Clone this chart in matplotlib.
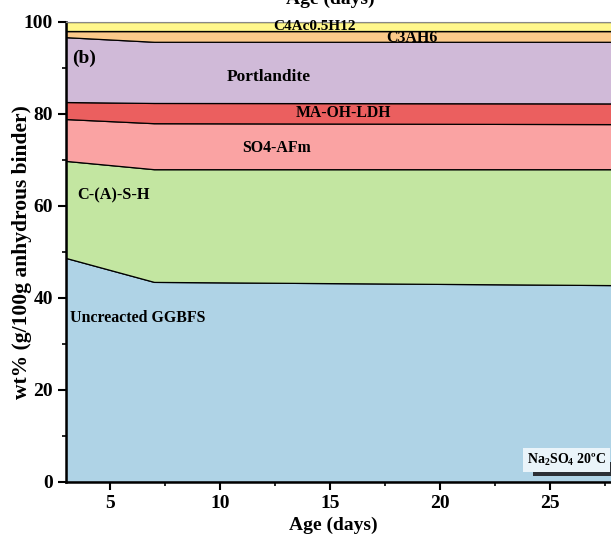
import matplotlib
matplotlib.use("Agg")
import matplotlib.pyplot as plt
from matplotlib.patches import Rectangle
from matplotlib.ticker import MultipleLocator

plt.rcParams['font.family'] = ['Liberation Serif', 'DejaVu Serif']
plt.rcParams['font.weight'] = 'bold'
plt.rcParams['mathtext.fontset'] = 'custom'
plt.rcParams['mathtext.rm'] = 'Liberation Serif:bold'
plt.rcParams['mathtext.it'] = 'Liberation Serif:bold'
plt.rcParams['mathtext.bf'] = 'Liberation Serif:bold'

# phase assemblage, wt% per 100 g anhydrous binder
days = [3, 7, 28]
ggbfs = [48.7, 43.5, 42.8]
csh = [21.1, 24.5, 25.2]
so4_afm = [9.1, 10.0, 9.8]
ma_oh_ldh = [3.7, 4.4, 4.5]
portlandite = [14.1, 13.3, 13.4]
c3ah6 = [1.3, 2.3, 2.3]
c4ac = [2.0, 2.0, 2.0]

colors = ["#afd3e6", "#c3e6a1", "#faa3a3", "#eb5f5f",
          "#d0bad8", "#fbc98a", "#fff78c"]

fig = plt.figure(figsize=(6.11, 5.36), dpi=100)
ax = fig.add_axes([66 / 611, 54 / 536, 545 / 611, 460 / 536])

ax.stackplot(days, ggbfs, csh, so4_afm, ma_oh_ldh, portlandite, c3ah6, c4ac,
             colors=colors, edgecolor="black", linewidth=0.9)

ax.set_xlim(3, 27.77)
ax.set_ylim(0, 100)
ax.xaxis.set_major_locator(MultipleLocator(5))
ax.xaxis.set_minor_locator(MultipleLocator(2.5))
ax.yaxis.set_major_locator(MultipleLocator(20))
ax.yaxis.set_minor_locator(MultipleLocator(10))
ax.tick_params(which="major", direction="out", length=6, width=1.5, labelsize=14)
ax.tick_params(which="minor", direction="out", length=3, width=1.2)
for side in ["left", "bottom"]:
    ax.spines[side].set_linewidth(1.8)
ax.spines["right"].set_visible(False)
ax.spines["top"].set_color("#888888")
ax.spines["top"].set_linewidth(0.8)

ax.set_xlabel("Age (days)", fontsize=14, fontweight="bold", labelpad=0)
ax.xaxis.set_label_coords(0.49, -0.075)
ax.set_ylabel("wt% (g/100g anhydrous binder)", fontsize=15.5, fontweight="bold")
ax.yaxis.set_label_coords(-0.062, 0.5)
fig.text(0.54, 1 - 4 / 536, "Age (days)", fontsize=14, fontweight="bold",
         ha="center", va="baseline")

# phase names
ax.text(14.3, 99.1, "C4Ac0.5H12", ha="center", va="center", fontsize=11, fontweight="bold")
ax.text(18.7, 96.6, "C3AH6", ha="center", va="center", fontsize=11.5, fontweight="bold")
ax.text(12.2, 88.0, "Portlandite", ha="center", va="center", fontsize=12.5, fontweight="bold")
ax.text(15.6, 80.2, "MA-OH-LDH", ha="center", va="center", fontsize=11.3, fontweight="bold")
ax.text(12.55, 72.6, "SO4-AFm", ha="center", va="center", fontsize=11.4, fontweight="bold")
ax.text(3.5, 62.2, "C-(A)-S-H", ha="left", va="center", fontsize=11.7, fontweight="bold")
ax.text(3.2, 35.7, "Uncreacted GGBFS", ha="left", va="center", fontsize=11.4, fontweight="bold")

ax.text(0.012, 0.922, "(b)", transform=ax.transAxes, fontsize=14,
        fontweight="bold", ha="left", va="center")

# condition tag with a drop shadow underneath
ax.add_patch(Rectangle((0.857, 0.014), 0.15, 0.03, transform=ax.transAxes,
                       fc="#2b2f35", ec="none", zorder=4, clip_on=False))
ax.text(0.991, 0.048, "Na$_2$SO$_4$ 20ºC", transform=ax.transAxes, fontsize=10,
        ha="right", va="center", zorder=5,
        bbox=dict(boxstyle="square,pad=0.3", fc="#eaf4fa", ec="none"))

fig.savefig("out.png", dpi=100)
